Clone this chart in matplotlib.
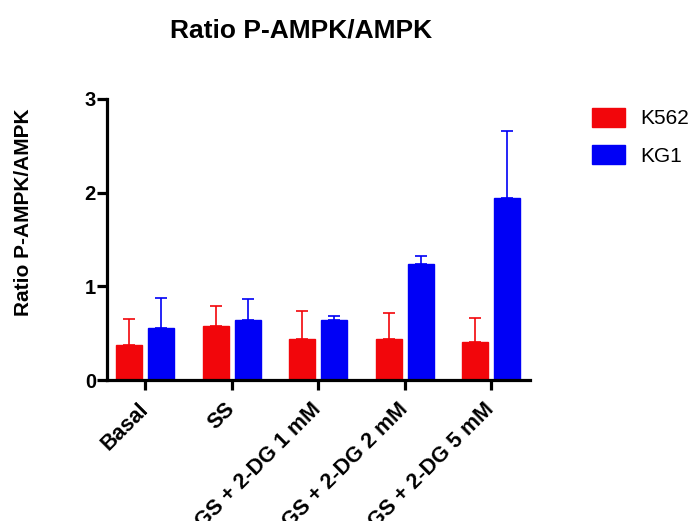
import numpy as np
import matplotlib
matplotlib.use("Agg")
import matplotlib.pyplot as plt
from matplotlib.patches import Patch

plt.rcParams['font.family'] = ['Liberation Sans', 'DejaVu Sans']

# Data
groups = ["Basal", "SS", "GS + 2-DG 1 mM", "GS + 2-DG 2 mM", "GS + 2-DG 5 mM"]
k562_mean = [0.37, 0.58, 0.44, 0.44, 0.405]
k562_err = [0.28, 0.21, 0.30, 0.275, 0.255]
kg1_mean = [0.55, 0.64, 0.64, 1.24, 1.94]
kg1_err = [0.325, 0.22, 0.04, 0.08, 0.72]
series = ["K562", "KG1"]

red = "#F2060B"
blue = "#0000F6"

fig = plt.figure(figsize=(6.97, 5.21), dpi=100)
ax = fig.add_axes([107 / 697, 1 - 380 / 521, (530 - 107) / 697, (380 - 99) / 521])

x = np.arange(len(groups))
w = 0.30
off = 0.185

ax.bar(x - off, k562_mean, w, color=red, edgecolor=red, linewidth=1,
       yerr=[np.zeros(len(groups)), k562_err], ecolor=red,
       error_kw=dict(capsize=4, elinewidth=1.2, capthick=1.2), zorder=2)
ax.bar(x + off, kg1_mean, w, color=blue, edgecolor=blue, linewidth=1,
       yerr=[np.zeros(len(groups)), kg1_err], ecolor=blue,
       error_kw=dict(capsize=4, elinewidth=1.2, capthick=1.2), zorder=2)

ax.set_xlim(-0.44, 4.45)
ax.set_ylim(0, 3)
ax.set_yticks([0, 1, 2, 3])
ax.set_xticks(x)
ax.set_xticklabels(groups, rotation=45, ha='right', va='center',
                   rotation_mode='anchor', fontsize=15.5, fontweight='bold')
for lab in ax.get_yticklabels():
    lab.set_fontsize(14.5)
    lab.set_fontweight('bold')

for s in ['top', 'right']:
    ax.spines[s].set_visible(False)
for s in ['left', 'bottom']:
    ax.spines[s].set_linewidth(2.3)
ax.tick_params(axis='both', width=2.3, length=7, pad=1)
ax.tick_params(axis='x', pad=12)

fig.text(301 / 697, 1 - 37 / 521, "Ratio P-AMPK/AMPK", ha='center', va='baseline',
         fontsize=19, fontweight='bold')
fig.text(24 / 697, 1 - 212 / 521, "Ratio P-AMPK/AMPK", ha='center', va='center',
         rotation=90, fontsize=15, fontweight='bold')

handles = [Patch(facecolor=red, edgecolor=red), Patch(facecolor=blue, edgecolor=blue)]
fig.legend(handles, series, loc='upper left', bbox_to_anchor=(592 / 697, 1 - 108 / 521),
           frameon=False, fontsize=15, handlelength=1.6, handleheight=1.0,
           handletextpad=0.7, labelspacing=0.8, borderpad=0, borderaxespad=0)

fig.savefig("out.png", dpi=100)
